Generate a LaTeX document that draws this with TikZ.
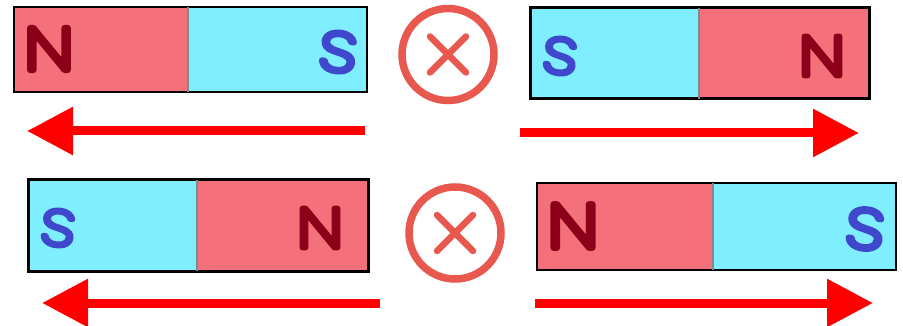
\documentclass[tikz,border=0pt]{standalone}
\usepackage{fontspec}
\setmainfont[Ligatures=TeX]{Fira Sans}
\newfontfamily\polefont[UprightFont={* ExtraLight},FakeBold=10,FakeStretch=1.25]{Poppins}
\usetikzlibrary{arrows.meta}
\definecolor{northred}{HTML}{F4707A}
\definecolor{southcyan}{HTML}{7FEEFF}
\definecolor{northtext}{HTML}{8B0018}
\definecolor{southtext}{HTML}{3F48CC}
\definecolor{crossred}{HTML}{E8584F}
\definecolor{divider}{HTML}{7F8A8C}
\newcommand{\roundstroke}{\special{pdf:code 1 j 1 J}}
\tikzset{
  northhalf/.style={fill=northred,draw=none},
  southhalf/.style={fill=southcyan,draw=none},
  frame/.style={draw=black,line width=#1},
  frame/.default=2.4pt,
  divline/.style={draw=divider,line width=1.6pt},
  forceline/.style={draw=red,line width=9pt,-{Triangle[length=46pt,width=46pt]}},
  ring/.style={circle,draw=crossred,line width=7.5pt,minimum size=92pt,inner sep=0pt},
  crossline/.style={draw=crossred,line width=6.5pt,line cap=round},
  nlabel/.style={text=northtext,inner sep=0pt,font=\polefont\fontsize{#1}{#1}\selectfont\roundstroke},
  slabel/.style={text=southtext,inner sep=0pt,font=\polefont\fontsize{#1}{#1}\selectfont\roundstroke,rotate=-6},
}
\begin{document}
\begin{tikzpicture}[x=1pt,y=-1pt]
\useasboundingbox (0,0) rectangle (903,326);
% magnet 1
\fill[northhalf] (14,7) rectangle (188,92);
\fill[southhalf] (188,7) rectangle (367,92);
\draw[frame] (14,7) rectangle (367,92);
\draw[divline] (188,7) -- (188,92);
\node[nlabel=60pt] (n1) at (49,49) {N};
\node[slabel=55pt] (s1) at (338,52) {S};
% magnet 2
\fill[southhalf] (530,8) rectangle (699,99);
\fill[northhalf] (699,8) rectangle (869,99);
\draw[frame=3pt] (530,8) rectangle (869,99);
\draw[divline] (699,8) -- (699,99);
\node[slabel=50pt] (s2) at (560,56) {S};
\node[nlabel=56pt] (n2) at (822,56) {N};
% magnet 3
\fill[southhalf] (28,180) rectangle (197,271);
\fill[northhalf] (197,180) rectangle (368,271);
\draw[frame=3pt] (28,180) rectangle (368,271);
\draw[divline] (197,180) -- (197,271);
\node[slabel=50pt] (s3) at (58,228) {S};
\node[nlabel=56pt] (n3) at (320,228) {N};
% magnet 4
\fill[northhalf] (537,183) rectangle (713,270);
\fill[southhalf] (713,183) rectangle (896,270);
\draw[frame] (537,183) rectangle (896,270);
\draw[divline] (713,183) -- (713,270);
\node[nlabel=62pt] (n4) at (573,226) {N};
\node[slabel=56pt] (s4) at (865,229) {S};
% rings
\node[ring] (r1) at (448,54.5) {};
\draw[crossline] ([shift={(-18,-18)}]r1.center) -- ([shift={(18,18)}]r1.center);
\draw[crossline] ([shift={(-18,18)}]r1.center) -- ([shift={(18,-18)}]r1.center);
\node[ring] (r2) at (455,233) {};
\draw[crossline] ([shift={(-18,-18)}]r2.center) -- ([shift={(18,18)}]r2.center);
\draw[crossline] ([shift={(-18,18)}]r2.center) -- ([shift={(18,-18)}]r2.center);
% arrows
\coordinate (a1s) at (365,131); \coordinate (a1e) at (27,131);
\coordinate (a2s) at (520,133); \coordinate (a2e) at (859,133);
\coordinate (a3s) at (380,303); \coordinate (a3e) at (42,303);
\coordinate (a4s) at (535,303); \coordinate (a4e) at (873,303);
\draw[forceline] (a1s) -- (a1e);
\draw[forceline] (a2s) -- (a2e);
\draw[forceline] (a3s) -- (a3e);
\draw[forceline] (a4s) -- (a4e);
\end{tikzpicture}
\end{document}
